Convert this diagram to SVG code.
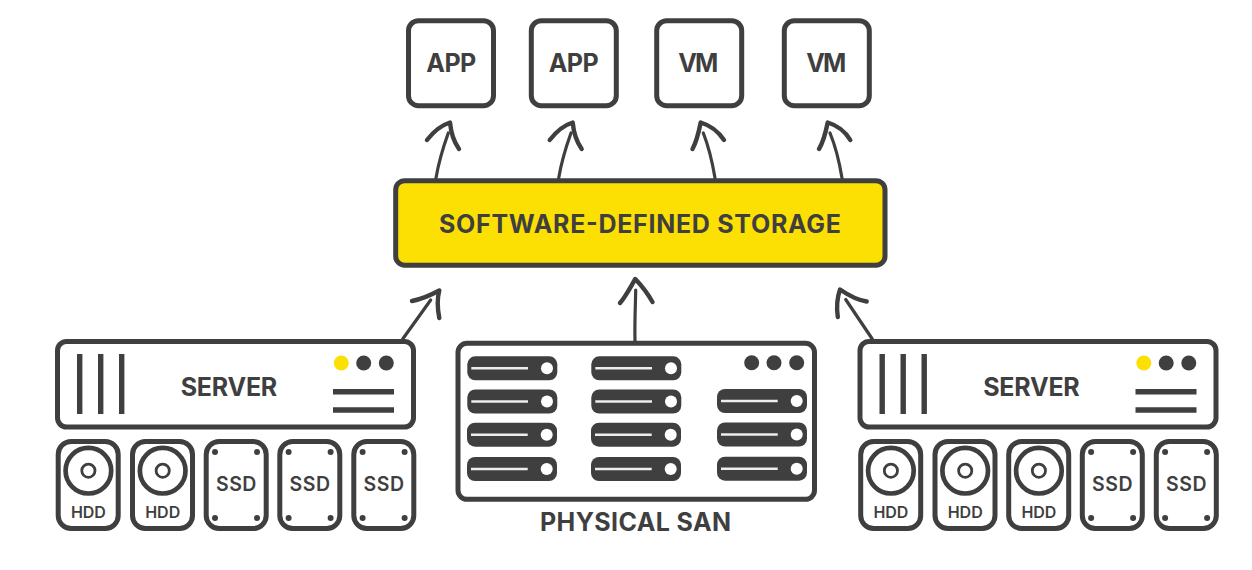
<svg xmlns="http://www.w3.org/2000/svg" width="1252" height="570" viewBox="0 0 1252 570">
<style>
text{font-family:"Inter","Liberation Sans",sans-serif;font-weight:700;fill:#3f3f3f;text-anchor:middle}
.b{fill:#fff;stroke:#3f3f3f;stroke-width:5}
.l{font-size:25px}
.s{font-size:19.500px;font-weight:600}
.h{font-size:16px;font-weight:600}
.d{fill:#3f3f3f}
.y{fill:#fcdf03}
.w{fill:#fff}
.bar{stroke:#3f3f3f;stroke-width:5.400;fill:none}
.wl{stroke:#eee;stroke-width:2.400;fill:none}
.o{fill:none;stroke:#3f3f3f;stroke-linecap:round;stroke-linejoin:round}
.c{stroke-width:3.200}
.ah{stroke-width:4.400}
</style>
<defs>
<g id="hdd"><rect class="b" x="2.500" y="2.500" width="60" height="87" rx="13"/><circle cx="32.700" cy="31.700" r="22.800" class="o" style="stroke-width:4.700"/><circle cx="32.700" cy="31.700" r="6.600" class="o" style="stroke-width:2.800"/><text class="h" x="32.700" y="78.700" textLength="35" lengthAdjust="spacing">HDD</text></g>
<g id="ssd"><rect class="b" x="2.500" y="2.500" width="60" height="87" rx="13"/><g class="d"><circle cx="11.300" cy="13" r="3"/><circle cx="53.300" cy="13" r="3"/><circle cx="11.300" cy="79" r="3"/><circle cx="53.300" cy="79" r="3"/></g><text class="s" x="32.500" y="52" textLength="40.500" lengthAdjust="spacing">SSD</text></g>
<g id="pill"><rect class="d" x="0" y="0" width="90" height="24" rx="8"/><path class="wl" d="M4 12H60.700"/><circle class="w" cx="79.700" cy="12" r="6"/></g>
<g id="srv"><rect class="b" x="57.500" y="341.500" width="356" height="85.500" rx="9"/><path class="bar" d="M79.700 354V414M100.700 354V414M121.700 354V414M333 391.700H394M333 410H394"/><circle class="y" cx="341.300" cy="363" r="7.500"/><circle class="d" cx="363.700" cy="363" r="7.500"/><circle class="d" cx="386.300" cy="363" r="7.500"/><text class="l" x="229" y="395.700" textLength="96.500" lengthAdjust="spacing">SERVER</text></g>
</defs>
<g id="connectors">
<g class="o c"><path d="M436 178C439 160 444 145 448.300 133"/><path d="M558.700 178C561.700 160 566.700 145 571 133"/><path d="M715 178C712 160 708 145 703.300 133"/><path d="M842 178C839 160 835 145 830 133"/><path d="M635 341C634.500 322 635.500 305 635.700 290"/><path d="M402.700 339L430.700 300"/><path d="M872.300 339L845.700 299.500"/></g>
<g class="o ah"><path d="M427 140C434 131 442 125 450 122.500C451 133 454 142 459 149"/><path d="M549.700 140C556.700 131 564.700 125 572.700 122.500C573.700 133 576.700 142 581.700 149"/><path d="M692.500 149C697 141 699 131 700.700 122.500C709 125 718 131 724 140"/><path d="M819 149C824 141 826 131 827.700 122.500C836 125 845 131 850.300 140"/><path d="M620 303C626 296 631 286 635.300 279C641 285 648 294 652.500 302"/><path d="M412 301C422 299 431 295 439.300 290.500C437 299 437.500 309 439.300 318"/><path d="M866.700 301.500C857 300 848 295 840 289.500C837 298 836.500 308 837.800 317"/></g>
</g>
<g id="app1"><rect class="b" x="408.500" y="20.700" width="85" height="85" rx="10"/><text class="l" x="451.300" y="72.300" textLength="50" lengthAdjust="spacing">APP</text></g>
<g id="app2"><rect class="b" x="531.300" y="20.700" width="85" height="85" rx="10"/><text class="l" x="573.700" y="72.300" textLength="50" lengthAdjust="spacing">APP</text></g>
<g id="vm1"><rect class="b" x="656.700" y="20.700" width="85" height="85" rx="10"/><text class="l" x="698.300" y="72.300" textLength="40" lengthAdjust="spacing">VM</text></g>
<g id="vm2"><rect class="b" x="784.300" y="20.700" width="85" height="85" rx="10"/><text class="l" x="826.300" y="72.300" textLength="40" lengthAdjust="spacing">VM</text></g>
<g id="sds"><rect class="b" style="fill:#fcdf03" x="395.700" y="180.700" width="489.300" height="84.500" rx="9"/><text class="l" x="640" y="233.300" textLength="402" lengthAdjust="spacing">SOFTWARE-DEFINED STORAGE</text></g>
<g id="server-left"><use href="#srv"/></g>
<g id="drive-l1"><use href="#hdd" x="55.700" y="439"/></g>
<g id="drive-l2"><use href="#hdd" x="130" y="439"/></g>
<g id="drive-l3"><use href="#ssd" x="203.700" y="439"/></g>
<g id="drive-l4"><use href="#ssd" x="277.300" y="439"/></g>
<g id="drive-l5"><use href="#ssd" x="351.300" y="439"/></g>
<g id="san"><rect class="b" x="458" y="343.300" width="356.500" height="156" rx="9"/>
<use href="#pill" x="467.300" y="356.300"/><use href="#pill" x="467.300" y="389.500"/><use href="#pill" x="467" y="422.700"/><use href="#pill" x="467" y="457"/>
<use href="#pill" x="591.300" y="356.300"/><use href="#pill" x="591.300" y="389.500"/><use href="#pill" x="591" y="422.700"/><use href="#pill" x="591" y="457"/>
<use href="#pill" x="717" y="389"/><use href="#pill" x="717" y="422.500"/><use href="#pill" x="717" y="456.700"/>
<circle class="d" cx="751.700" cy="362.700" r="7.500"/><circle class="d" cx="774" cy="362.700" r="7.500"/><circle class="d" cx="796.700" cy="362.700" r="7.500"/>
<text class="l" x="635.500" y="531" textLength="191" lengthAdjust="spacing">PHYSICAL SAN</text></g>
<g id="server-right"><use href="#srv" x="802.500"/></g>
<g id="drive-r1"><use href="#hdd" x="858.200" y="439"/></g>
<g id="drive-r2"><use href="#hdd" x="932.500" y="439"/></g>
<g id="drive-r3"><use href="#hdd" x="1006.200" y="439"/></g>
<g id="drive-r4"><use href="#ssd" x="1079.800" y="439"/></g>
<g id="drive-r5"><use href="#ssd" x="1153.800" y="439"/></g>
</svg>
